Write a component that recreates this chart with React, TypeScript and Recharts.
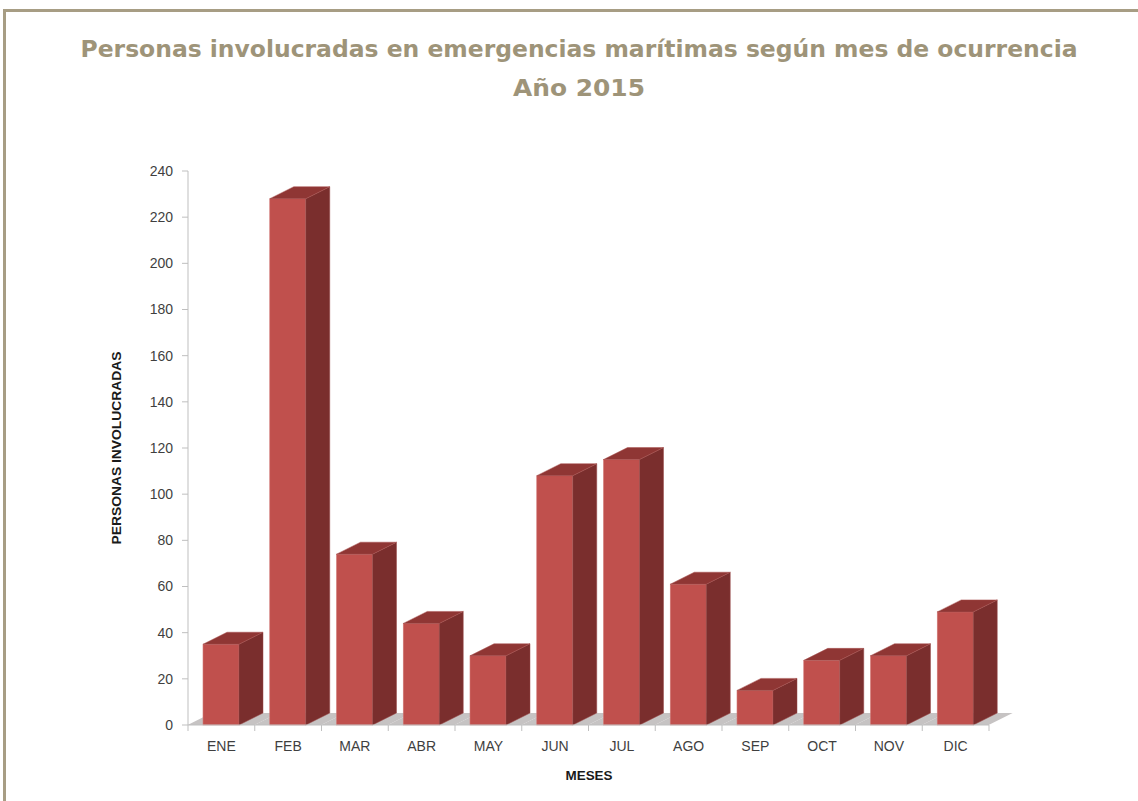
import React from 'react';
import { BarChart, Bar, XAxis, YAxis } from 'recharts';

const months = ['ENE', 'FEB', 'MAR', 'ABR', 'MAY', 'JUN', 'JUL', 'AGO', 'SEP', 'OCT', 'NOV', 'DIC'];
const persons = [35, 228, 74, 44, 30, 108, 115, 61, 15, 28, 30, 49];
const yTicks = [0, 20, 40, 60, 80, 100, 120, 140, 160, 180, 200, 220, 240];

const data = months.map((mes, i) => ({ mes, personas: persons[i] }));

const W = 1138;
const H = 801;
const MARGIN = { top: 171, right: 149, bottom: 46, left: 128 };
const Y_AXIS_W = 60;
const PLOT_W = W - MARGIN.left - Y_AXIS_W - MARGIN.right;
const BAND = PLOT_W / months.length;
const DX = 24;
const DY = 12;

const FRONT = '#c0504d';
const SIDE = '#7a2e2d';
const TOP = '#8f3634';
const FLOOR = '#c6c3c3';
const AXIS = '#bfbfbf';
const TITLE = '#9e9479';
const TICK_FONT = 'Liberation Sans, Arial, sans-serif';

// front face + top + side, with the floor strip of its own category underneath
const Bar3D = (props: any) => {
  const { x, y, width, height } = props;
  const bottom = y + height;
  const cx = x + width / 2;
  const b0 = cx - BAND / 2;
  const b1 = cx + BAND / 2;
  const r = x + width;
  return (
    <g>
      <polygon points={`${b0},${bottom} ${b0 + DX},${bottom - DY} ${b1 + DX},${bottom - DY} ${b1},${bottom}`} fill={FLOOR} />
      <rect x={x} y={y} width={width} height={height} fill={FRONT} stroke="#d27a77" strokeWidth={0.6} />
      <polygon points={`${r},${y} ${r + DX},${y - DY} ${r + DX},${bottom - DY} ${r},${bottom}`} fill={SIDE} stroke="#9a4a48" strokeWidth={0.5} />
      <polygon points={`${x},${y} ${x + DX},${y - DY} ${r + DX},${y - DY} ${r},${y}`} fill={TOP} stroke="#a85250" strokeWidth={0.5} />
    </g>
  );
};

// month label, with tick marks on the category boundaries
const MonthTick = (props: any) => {
  const { x, y, payload, index } = props;
  const last = index === months.length - 1;
  return (
    <g>
      <line x1={x - BAND / 2} y1={y} x2={x - BAND / 2} y2={y + 6} stroke={AXIS} />
      {last && <line x1={x + BAND / 2} y1={y} x2={x + BAND / 2} y2={y + 6} stroke={AXIS} />}
      <text x={x} y={y + 16} dy="0.71em" textAnchor="middle" fill="#3f3f3f" fontSize={14} fontFamily={TICK_FONT}>
        {payload.value}
      </text>
    </g>
  );
};

export default function App() {
  return (
    <div style={{ position: 'fixed', left: 0, top: 0, width: W, height: H, background: '#fff', overflow: 'hidden' }}>
      <div
        style={{
          position: 'absolute',
          left: 3,
          top: 9,
          width: 1300,
          height: 1000,
          borderTop: '3px solid #a79d84',
          borderLeft: '3px solid #a79d84',
        }}
      />
      <div style={{ position: 'absolute', left: 0, top: 0 }}>
        <BarChart width={W} height={H} data={data} margin={MARGIN} barSize={36}>
          <XAxis
            dataKey="mes"
            height={30}
            stroke={AXIS}
            tickLine={false}
            tickSize={0}
            tickMargin={0}
            tick={<MonthTick />}
            interval={0}
          />
          <YAxis
            width={Y_AXIS_W}
            domain={[0, 240]}
            ticks={yTicks}
            interval={0}
            stroke={AXIS}
            tickSize={6}
            tickMargin={9}
            tick={{ fill: '#3f3f3f', fontSize: 14, fontFamily: TICK_FONT }}
          />
          <Bar dataKey="personas" shape={<Bar3D />} isAnimationActive={false} />
        </BarChart>
      </div>
      <svg width={W} height={H} style={{ position: 'absolute', left: 0, top: 0, pointerEvents: 'none' }}>
        <text x={579} y={57} textAnchor="middle" fill={TITLE} fontSize={23} fontWeight="bold" fontFamily="DejaVu Sans, sans-serif" textLength={997} lengthAdjust="spacingAndGlyphs">
          Personas involucradas en emergencias marítimas según mes de ocurrencia
        </text>
        <text x={579} y={96} textAnchor="middle" fill={TITLE} fontSize={23} fontWeight="bold" fontFamily="DejaVu Sans, sans-serif" textLength={132} lengthAdjust="spacingAndGlyphs">
          Año 2015
        </text>
        <text
          x={0}
          y={0}
          transform="translate(121,448) rotate(-90)"
          textAnchor="middle"
          fill="#1a1a1a"
          fontSize={12}
          fontWeight="bold"
          fontFamily="Liberation Sans Narrow, Liberation Sans, sans-serif"
          textLength={193}
          lengthAdjust="spacingAndGlyphs"
        >
          PERSONAS INVOLUCRADAS
        </text>
        <text x={589} y={780} textAnchor="middle" fill="#1a1a1a" fontSize={12.5} fontWeight="bold" fontFamily="Liberation Sans, sans-serif" textLength={47} lengthAdjust="spacingAndGlyphs">
          MESES
        </text>
      </svg>
    </div>
  );
}
